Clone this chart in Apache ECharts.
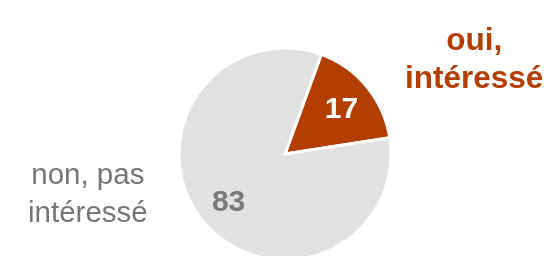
<!DOCTYPE html>
<html>
<head>
<meta charset="utf-8">
<script src="https://cdn.jsdelivr.net/npm/echarts@6/dist/echarts.min.js"></script>
<style>
  html, body { margin: 0; padding: 0; background: #fff; }
  #main { width: 548px; height: 256px; }
</style>
</head>
<body>
<div id="main"></div>
<script>
// categories and values
var categories = ['oui,\nintéressé', 'non, pas\nintéressé'];
var values = [17, 83];
var colors = ['#B43E02', '#E1E1E1'];
var valueColors = ['#FFFFFF', '#7A7A7A'];

var myChart = echarts.init(document.getElementById('main'));

var pieData = categories.map(function (c, i) {
    return { name: c, value: values[i], itemStyle: { color: colors[i] } };
});

// second, invisible pie only carries the value labels (placed at ~2/3 radius)
var labelData = categories.map(function (c, i) {
    return {
        name: c, value: values[i],
        label: { color: valueColors[i] }
    };
});

var option = {
    backgroundColor: '#fff',
    animation: false,
    series: [{
        type: 'pie',
        center: [285, 154],
        radius: [0, 106],
        startAngle: 70,
        clockwise: true,
        silent: true,
        label: { show: false },
        labelLine: { show: false },
        itemStyle: { borderColor: '#fff', borderWidth: 3 },
        data: pieData
    }, {
        type: 'pie',
        center: [285, 156],
        radius: [0, 140],
        startAngle: 70,
        clockwise: true,
        silent: true,
        itemStyle: { color: 'rgba(0,0,0,0)' },
        label: {
            show: true,
            position: 'inside',
            formatter: '{c}',
            fontFamily: 'Liberation Sans, Arial',
            fontWeight: 'bold',
            fontSize: 30
        },
        labelLine: { show: false },
        data: labelData
    }],
    // category names beside the pie (graphic left/top place the text box)
    graphic: [{
        type: 'text',
        left: 405, top: 22,
        style: {
            text: categories[0],
            textAlign: 'center',
            fill: colors[0],
            font: 'bold 31.5px "Liberation Sans", Arial',
            lineHeight: 38
        }
    }, {
        type: 'text',
        left: 28, top: 157,
        style: {
            text: categories[1],
            textAlign: 'center',
            fill: '#767676',
            font: '29.5px "Liberation Sans", Arial',
            lineHeight: 38
        }
    }]
};

myChart.setOption(option);
</script>
</body>
</html>
